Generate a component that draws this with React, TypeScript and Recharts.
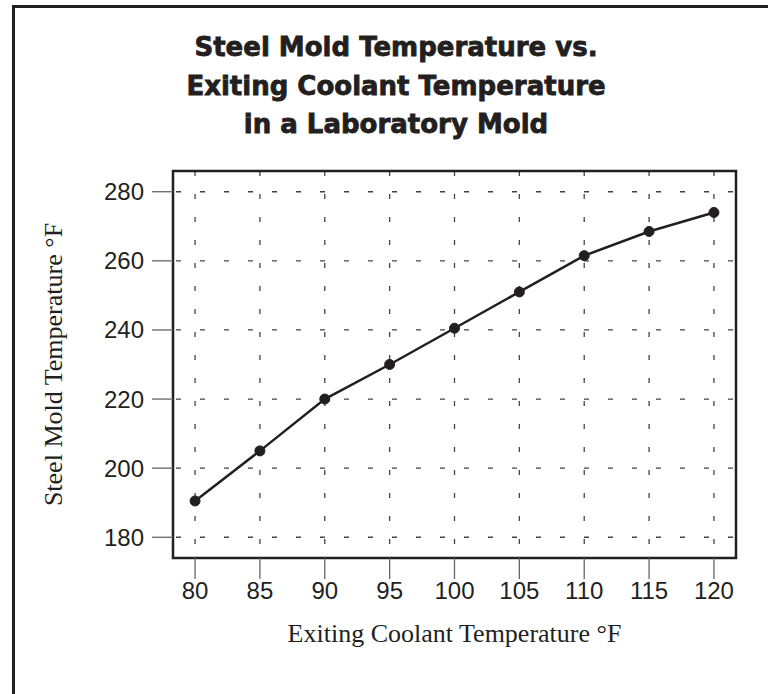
import {
  LineChart, Line, XAxis, YAxis, CartesianGrid, ReferenceArea, Label,
} from "recharts";

// values
const coolantTemps = [80, 85, 90, 95, 100, 105, 110, 115, 120];
const moldTemps = [190.5, 205, 220, 230, 240.5, 251, 261.5, 268.5, 274];
const xTicks = [80, 85, 90, 95, 100, 105, 110, 115, 120];
const yTicks = [180, 200, 220, 240, 260, 280];
const xDomain = [78.3, 121.7];
const yDomain = [174, 286];
const titleLines = [
  "Steel Mold Temperature vs.",
  "Exiting Coolant Temperature",
  "in a Laboratory Mold",
];

const data = coolantTemps.map((x, i) => ({ coolant: x, mold: moldTemps[i] }));

const INK = "#231f20";
const SANS = "'Liberation Sans', Arial, sans-serif";
const SERIF = "'Liberation Serif', 'Times New Roman', serif";

export default function App() {
  return (
    <div style={{ position: "absolute", left: 0, top: 0, width: 768, height: 694, background: "#fff", overflow: "hidden" }}>
      <LineChart
        width={768}
        height={694}
        data={data}
        margin={{ top: 171, right: 32, left: 0, bottom: 46 }}
        style={{ position: "absolute", left: 0, top: 0 }}
      >
        <CartesianGrid horizontal={false} stroke="#444" strokeWidth={1.3} strokeDasharray="5 18" />
        <CartesianGrid vertical={false} stroke="#444" strokeWidth={1.3} strokeDasharray="5 19" strokeDashoffset={-3} />
        <XAxis
          dataKey="coolant"
          type="number"
          domain={xDomain}
          ticks={xTicks}
          allowDataOverflow
          axisLine={false}
          tickSize={21}
          tickMargin={3}
          tickLine={{ stroke: "#666", strokeWidth: 1.3 }}
          tick={{ fill: INK, fontSize: 24, fontFamily: SANS }}
          height={90}
        >
          <Label
            value="Exiting Coolant Temperature °F"
            position="insideBottom"
            offset={6}
            style={{ fill: INK, fontSize: 26, fontFamily: SERIF }}
          />
        </XAxis>
        <YAxis
          type="number"
          domain={yDomain}
          ticks={yTicks}
          allowDataOverflow
          axisLine={false}
          tickSize={21}
          tickMargin={8}
          tickLine={{ stroke: "#666", strokeWidth: 1.3 }}
          tick={{ fill: INK, fontSize: 24, fontFamily: SANS }}
          width={173}
        >
          <Label
            value="Steel Mold Temperature °F"
            angle={-90}
            position="insideLeft"
            offset={53}
            style={{ fill: INK, fontSize: 26, fontFamily: SERIF, textAnchor: "middle" }}
          />
        </YAxis>
        <ReferenceArea
          x1={xDomain[0]}
          x2={xDomain[1]}
          y1={yDomain[0]}
          y2={yDomain[1]}
          fill="none"
          stroke={INK}
          strokeWidth={2.5}
          ifOverflow="visible"
        />
        <Line
          dataKey="mold"
          stroke={INK}
          strokeWidth={2.5}
          dot={{ r: 5, fill: INK, stroke: INK, strokeWidth: 1 }}
          isAnimationActive={false}
        />
      </LineChart>
      <div
        style={{
          position: "absolute", left: 12, top: 5, right: -10, bottom: -10,
          borderLeft: `3px solid ${INK}`, borderTop: `3px solid ${INK}`,
          pointerEvents: "none",
        }}
      />
      <div
        style={{
          position: "absolute", left: 0, top: 28, width: 792, textAlign: "center",
          fontFamily: "'DejaVu Sans', sans-serif", fontWeight: 700, fontSize: 26,
          lineHeight: "38.5px", color: INK, pointerEvents: "none",
          WebkitTextStroke: `0.8px ${INK}`,
        }}
      >
        {titleLines.map((t) => (
          <div key={t}>{t}</div>
        ))}
      </div>
    </div>
  );
}
